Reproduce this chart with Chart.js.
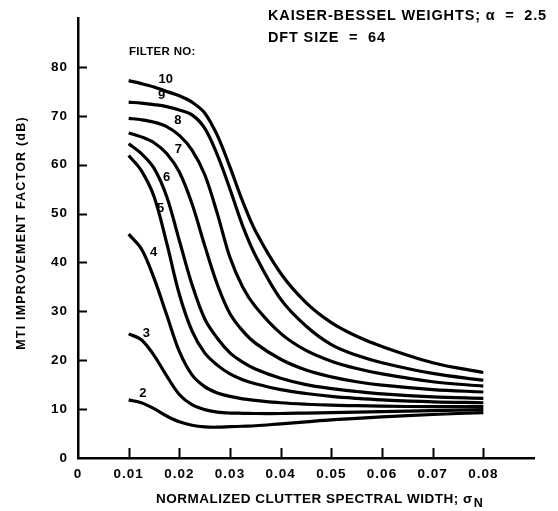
<!DOCTYPE html>
<html>
<head>
<meta charset="utf-8">
<script src="https://cdn.jsdelivr.net/npm/chart.js@4/dist/chart.umd.min.js"></script>
<style>
  html, body { margin: 0; padding: 0; background: #fff; }
  canvas { display: block; }
</style>
</head>
<body>
<canvas id="c" width="558" height="511"></canvas>
<script>
// Normalized clutter spectral width (sigma N) sample points
const spectralWidth = [0.01, 0.0125, 0.015, 0.0175, 0.02, 0.0225, 0.025, 0.0275, 0.03, 0.0325, 0.035, 0.04, 0.045, 0.05, 0.055, 0.06, 0.07, 0.08];

// MTI improvement factor (dB) for each DFT filter
const filter2  = [11.9, 11.3, 10.1, 8.6, 7.4, 6.7, 6.35, 6.3, 6.4, 6.5, 6.6, 7.0, 7.4, 7.8, 8.1, 8.4, 8.9, 9.3];
const filter3  = [25.4, 24.2, 21.0, 16.8, 13.0, 10.9, 9.9, 9.4, 9.2, 9.15, 9.1, 9.1, 9.2, 9.3, 9.4, 9.5, 9.7, 9.9];
const filter4  = [45.8, 42.8, 36.8, 29.3, 21.8, 17.0, 14.6, 13.3, 12.6, 12.1, 11.8, 11.3, 11.0, 10.8, 10.7, 10.6, 10.5, 10.5];
const filter5  = [61.9, 58.8, 53.5, 44.0, 33.5, 26.0, 21.5, 19.0, 17.2, 16.0, 15.2, 14.0, 13.2, 12.6, 12.2, 11.9, 11.5, 11.3];
const filter6  = [64.3, 62.3, 59.3, 53.5, 44.5, 35.5, 28.5, 24.5, 21.5, 19.6, 18.2, 16.3, 15.0, 14.2, 13.6, 13.1, 12.5, 12.2];
const filter7  = [66.5, 65.7, 64.5, 62.3, 58.5, 52.0, 43.5, 35.5, 29.5, 26.0, 23.5, 20.2, 18.0, 16.6, 15.6, 14.9, 14.0, 13.5];
const filter8  = [69.5, 69.2, 68.7, 67.8, 66.0, 63.0, 58.0, 50.0, 41.0, 35.0, 31.0, 25.5, 22.0, 19.8, 18.3, 17.2, 15.6, 14.7];
const filter9  = [72.8, 72.6, 72.3, 71.9, 71.2, 70.2, 67.5, 62.0, 55.0, 47.5, 41.5, 32.5, 27.0, 23.2, 21.0, 19.5, 17.3, 15.9];
const filter10 = [77.2, 76.6, 75.9, 75.0, 74.1, 72.8, 70.6, 66.0, 59.5, 52.5, 46.5, 37.8, 31.8, 27.7, 24.9, 22.8, 19.5, 17.5];

const filterNames = ['2', '3', '4', '5', '6', '7', '8', '9', '10'];
const filterSeries = [filter2, filter3, filter4, filter5, filter6, filter7, filter8, filter9, filter10];

// Axis tick values
const xTickValues = [0, 0.01, 0.02, 0.03, 0.04, 0.05, 0.06, 0.07, 0.08];
const yTickValues = [0, 10, 20, 30, 40, 50, 60, 70, 80];

const FONT = "'Liberation Sans', Arial, Helvetica, sans-serif";

// Where each filter number sits, in data units (sigma N, dB)
const curveLabelAnchors = [
  [0.0128, 13.3], [0.0135, 25.4], [0.0149, 42.0], [0.0163, 51.0], [0.0175, 57.5],
  [0.0198, 63.1], [0.0197, 69.0], [0.0165, 74.2], [0.0173, 77.4]
];

const datasets = filterSeries.map((vals, i) => ({
  label: 'Filter ' + filterNames[i],
  data: spectralWidth.map((x, k) => ({ x: x, y: vals[k] })),
  borderColor: '#000',
  borderWidth: 3.2,
  pointRadius: 0,
  fill: false,
  tension: 0.35
}));

// Slightly wider lettering for the axis numbers
const spacing = {
  id: 'spacing',
  beforeDraw(chart) { chart.ctx.letterSpacing = '1px'; },
  beforeDatasetsDraw(chart) { chart.ctx.letterSpacing = '0px'; }
};

// Inward tick marks on both axes
const innerTicks = {
  id: 'innerTicks',
  afterDraw(chart) {
    const { ctx, chartArea, scales } = chart;
    ctx.save();
    ctx.strokeStyle = '#000';
    ctx.lineWidth = 2;
    yTickValues.filter(v => v > 0).forEach(v => {
      const y = Math.round(scales.y.getPixelForValue(v)) + 0.5;
      ctx.beginPath();
      ctx.moveTo(chartArea.left, y);
      ctx.lineTo(chartArea.left + 9, y);
      ctx.stroke();
    });
    xTickValues.filter(v => v > 0).forEach(v => {
      const x = Math.round(scales.x.getPixelForValue(v)) + 0.5;
      ctx.beginPath();
      ctx.moveTo(x, chartArea.bottom);
      ctx.lineTo(x, chartArea.bottom - 10);
      ctx.stroke();
    });
    ctx.restore();
  }
};

// Titles, axis titles and curve numbers
const textLayer = {
  id: 'textLayer',
  afterDraw(chart) {
    const { ctx, scales } = chart;
    ctx.save();
    ctx.fillStyle = '#000';
    ctx.textBaseline = 'middle';

    ctx.font = 'bold 14.5px ' + FONT;
    ctx.letterSpacing = '0.85px';
    ctx.textAlign = 'left';
    ctx.fillText('KAISER-BESSEL WEIGHTS; \u03B1  =  2.5', 268, 16);
    ctx.fillText('DFT SIZE  =  64', 268, 38);

    ctx.letterSpacing = '0.3px';
    ctx.font = 'bold 11.5px ' + FONT;
    ctx.fillText('FILTER NO:', 129, 52);

    ctx.letterSpacing = '0px';
    ctx.font = 'bold 13px ' + FONT;
    ctx.textAlign = 'center';
    curveLabelAnchors.forEach((p, i) => {
      ctx.fillText(filterNames[i], scales.x.getPixelForValue(p[0]), scales.y.getPixelForValue(p[1]));
    });

    // y axis title
    ctx.save();
    ctx.translate(22, 233);
    ctx.rotate(-Math.PI / 2);
    ctx.textAlign = 'left';
    ctx.font = 'bold 12.5px ' + FONT;
    ctx.letterSpacing = '1.2px';
    const yt = 'MTI IMPROVEMENT FACTOR (dB)';
    ctx.fillText(yt, -ctx.measureText(yt).width / 2, 0);
    ctx.restore();

    // x axis title with subscript N
    ctx.textAlign = 'left';
    ctx.letterSpacing = '0.5px';
    ctx.font = 'bold 13.5px ' + FONT;
    const main = 'NORMALIZED CLUTTER SPECTRAL WIDTH; \u03C3';
    const w = ctx.measureText(main).width;
    ctx.fillText(main, 156, 499);
    ctx.font = 'bold 12.5px ' + FONT;
    ctx.fillText('N', 156 + w + 1, 504);
    ctx.restore();
  }
};

new Chart(document.getElementById('c'), {
  type: 'line',
  data: { datasets: datasets },
  plugins: [spacing, innerTicks, textLayer],
  options: {
    responsive: false,
    animation: false,
    layout: { padding: { top: 13, right: 24, left: 0, bottom: 0 } },
    plugins: { legend: { display: false }, tooltip: { enabled: false } },
    scales: {
      x: {
        type: 'linear',
        min: 0,
        max: 0.09,
        afterBuildTicks: s => { s.ticks = xTickValues.map(v => ({ value: v })); },
        afterFit: s => { s.height = 53; },
        ticks: {
          autoSkip: false,
          maxRotation: 0,
          padding: 8,
          color: '#000',
          font: { family: FONT, size: 13.5, weight: 'bold' },
          callback: v => (v === 0 ? '0' : v.toFixed(2))
        },
        grid: { display: false, drawTicks: false },
        border: { display: true, color: '#000', width: 2.5 }
      },
      y: {
        type: 'linear',
        min: 0,
        max: 90,
        afterBuildTicks: s => { s.ticks = yTickValues.map(v => ({ value: v })); },
        afterFit: s => { s.width = 78; },
        ticks: {
          padding: 10,
          color: '#000',
          font: { family: FONT, size: 13.5, weight: 'bold' }
        },
        grid: { display: false, drawTicks: false },
        border: { display: true, color: '#000', width: 2.5 }
      }
    }
  }
});
</script>
</body>
</html>
